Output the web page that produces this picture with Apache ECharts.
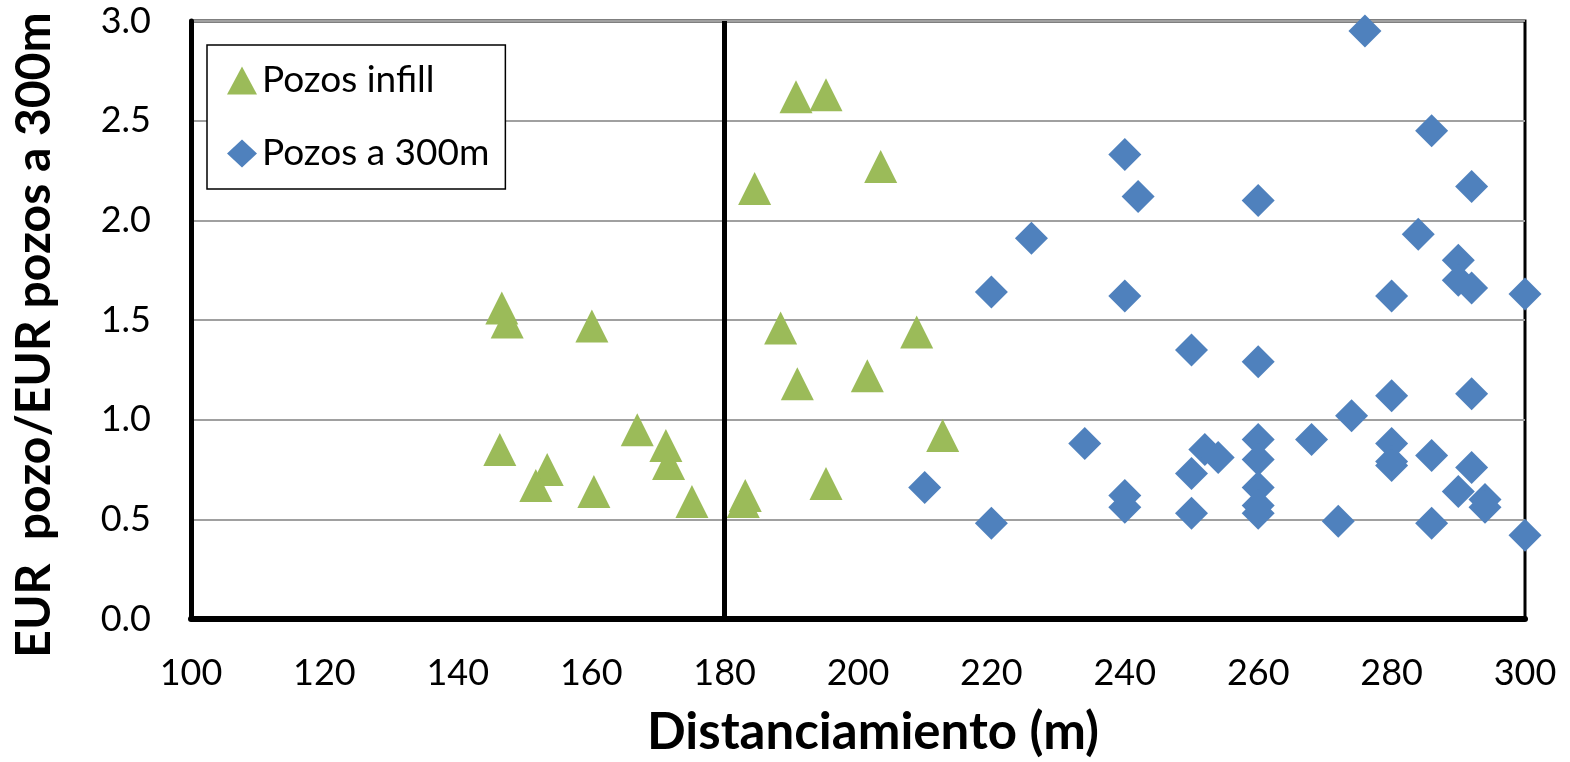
<!DOCTYPE html>
<html>
<head>
<meta charset="utf-8">
<script src="https://cdn.jsdelivr.net/npm/echarts@6/dist/echarts.min.js"></script>
<style>
  html, body { margin: 0; padding: 0; background: #fff; }
  #chart { width: 1570px; height: 762px; }
</style>
</head>
<body>
<div id="chart"></div>
<script>
// Pozos infill (triangulos verdes)
var infillX = [146.6, 147.4, 160.1, 146.3, 153.4, 151.7, 160.4, 166.9, 171.2, 171.6, 175.1,
               190.7, 195.2, 184.5, 203.4, 188.4, 208.8, 190.9, 201.4, 212.7, 195.2, 183.1, 182.8];
var infillY = [1.56, 1.49, 1.47, 0.85, 0.75, 0.67, 0.64, 0.95, 0.87, 0.78, 0.59,
               2.62, 2.63, 2.16, 2.27, 1.46, 1.44, 1.18, 1.22, 0.92, 0.68, 0.62, 0.59];

// Pozos a 300m (rombos azules)
var p300X = [210, 220, 220, 226, 234, 240, 240, 240, 240, 242, 276, 286, 292, 260, 284, 290,
             290, 292, 280, 300, 250, 260, 280, 292, 274, 268, 260, 252, 254, 260, 250, 250,
             260, 260, 260, 272, 280, 280, 280, 286, 286, 292, 290, 294, 294, 300];
var p300Y = [0.66, 0.48, 1.64, 1.91, 0.88, 2.33, 1.62, 0.62, 0.56, 2.12, 2.95, 2.45, 2.17, 2.10, 1.93, 1.80,
             1.70, 1.66, 1.62, 1.63, 1.35, 1.29, 1.12, 1.13, 1.02, 0.90, 0.90, 0.85, 0.81, 0.80, 0.73, 0.53,
             0.66, 0.57, 0.53, 0.49, 0.88, 0.79, 0.77, 0.82, 0.48, 0.76, 0.64, 0.60, 0.56, 0.42];

var cutX = 180; // linea vertical de referencia

function pairs (xs, ys) {
  return xs.map(function (x, i) { return [x, ys[i]] })
}

var chart = echarts.init(document.getElementById('chart'))
var font = 'Lato, "Open Sans", sans-serif'

var option = {
  backgroundColor: '#fff',
  animation: false,
  grid: {
    left: 191, right: 45, top: 21, bottom: 143,
    outerBoundsMode: 'none',
    show: true,
    borderColor: '#000',
    borderWidth: 3
  },
  legend: {
    orient: 'vertical',
    left: 207, top: 45,
    backgroundColor: '#fff',
    borderColor: '#000',
    borderWidth: 1.5,
    borderRadius: 0,
    padding: [17, 16, 17, 20],
    itemGap: 36,
    itemWidth: 30,
    itemHeight: 28,
    textStyle: { fontFamily: font, fontSize: 37, color: '#000' },
    data: ['Pozos infill', 'Pozos a 300m']
  },
  xAxis: {
    type: 'value',
    min: 100, max: 300, interval: 20,
    name: 'Distanciamiento (m)',
    nameLocation: 'middle',
    nameGap: 88,
    nameTextStyle: { fontFamily: font, fontSize: 51, fontWeight: 'bold', color: '#000', padding: [0, 0, 0, 30] },
    axisLine: { show: true, lineStyle: { color: '#000', width: 6 } },
    axisTick: { show: false },
    splitLine: { show: false },
    axisLabel: { fontFamily: font, fontSize: 36, color: '#000', margin: 36 }
  },
  yAxis: {
    type: 'value',
    min: 0, max: 3, interval: 0.5,
    name: 'EUR  pozo/EUR pozos a 300m',
    nameLocation: 'middle',
    nameGap: 132,
    nameTextStyle: { fontFamily: font, fontSize: 48, fontWeight: 'bold', color: '#000', padding: [0, 30, 0, 0] },
    axisLine: { show: true, lineStyle: { color: '#000', width: 5 } },
    axisTick: { show: false },
    splitLine: { show: true, lineStyle: { color: '#a0a0a0', width: 2 } },
    axisLabel: {
      fontFamily: font, fontSize: 36, color: '#000', margin: 40,
      formatter: function (v) { return v.toFixed(1) }
    }
  },
  series: [
    {
      name: 'Pozos infill',
      type: 'scatter',
      symbol: 'triangle',
      symbolSize: 33,
      itemStyle: { color: '#9BBB59', opacity: 1 },
      data: pairs(infillX, infillY),
      markLine: {
        silent: true,
        symbol: 'none',
        label: { show: false },
        lineStyle: { color: '#000', width: 5, type: 'solid' },
        data: [{ xAxis: cutX }]
      }
    },
    {
      name: 'Pozos a 300m',
      type: 'scatter',
      symbol: 'diamond',
      symbolSize: 33,
      itemStyle: { color: '#4F81BD', opacity: 1 },
      data: pairs(p300X, p300Y)
    }
  ]
}

chart.setOption(option)
</script>
</body>
</html>
